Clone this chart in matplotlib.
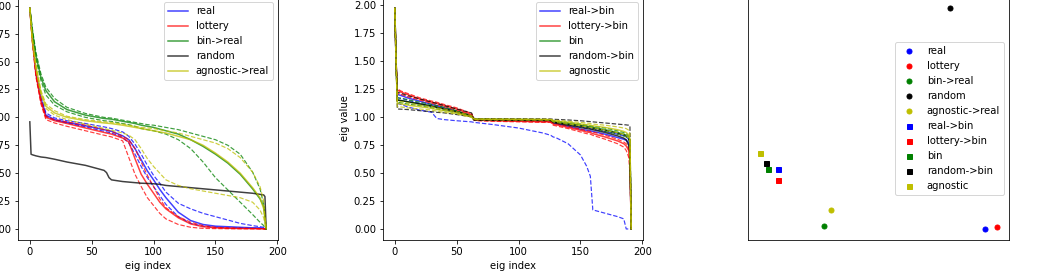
import matplotlib
matplotlib.use("Agg")
import matplotlib.pyplot as plt

# eigenvalue index grid used for the left panel
P1_IDX = [0, 1, 2, 5, 9, 13, 20, 30, 45, 60, 62, 64, 66, 75, 80, 85, 90, 95,
          100, 105, 110, 120, 130, 140, 150, 160, 170, 180, 186, 189, 190, 191]

REAL_MEAN = [1.98, 1.85, 1.72, 1.40, 1.17, 1.02, 0.98, 0.955, 0.925, 0.89, 0.885, 0.88,
             0.875, 0.835, 0.80, 0.72, 0.62, 0.52, 0.44, 0.355, 0.28, 0.15, 0.075, 0.04,
             0.025, 0.02, 0.015, 0.01, 0.01, 0.005, 0.0, 0.0]
REAL_RUN1 = [1.98, 1.84, 1.70, 1.38, 1.15, 1.01, 0.975, 0.95, 0.915, 0.875, 0.87, 0.865,
             0.86, 0.82, 0.77, 0.67, 0.56, 0.46, 0.38, 0.30, 0.22, 0.11, 0.05, 0.025,
             0.015, 0.01, 0.008, 0.005, 0.004, 0.002, 0.0, 0.0]
REAL_RUN2 = [1.98, 1.86, 1.74, 1.42, 1.19, 1.04, 0.995, 0.97, 0.945, 0.915, 0.91, 0.905,
             0.90, 0.87, 0.83, 0.76, 0.67, 0.57, 0.48, 0.41, 0.33, 0.23, 0.18, 0.14,
             0.11, 0.08, 0.05, 0.03, 0.02, 0.015, 0.01, 0.0]

LOTTERY_MEAN = [1.98, 1.84, 1.70, 1.38, 1.14, 1.00, 0.97, 0.945, 0.905, 0.865, 0.86, 0.855,
                0.85, 0.815, 0.78, 0.63, 0.49, 0.40, 0.32, 0.24, 0.18, 0.10, 0.045, 0.02,
                0.01, 0.006, 0.004, 0.003, 0.002, 0.001, 0.0, 0.0]
LOTTERY_RUN1 = [1.98, 1.83, 1.68, 1.36, 1.12, 0.98, 0.95, 0.92, 0.88, 0.84, 0.835, 0.83,
                0.825, 0.79, 0.64, 0.49, 0.38, 0.28, 0.21, 0.14, 0.09, 0.04, 0.015, 0.005,
                0.003, 0.002, 0.001, 0.001, 0.0, 0.0, 0.0, 0.0]
LOTTERY_RUN2 = [1.98, 1.85, 1.72, 1.40, 1.16, 1.01, 0.98, 0.96, 0.93, 0.89, 0.885, 0.88,
                0.875, 0.83, 0.80, 0.72, 0.60, 0.48, 0.38, 0.27, 0.19, 0.11, 0.06, 0.03,
                0.015, 0.01, 0.006, 0.004, 0.003, 0.002, 0.0, 0.0]

BIN_REAL_MEAN = [1.98, 1.88, 1.78, 1.55, 1.36, 1.24, 1.14, 1.07, 1.02, 0.99, 0.988, 0.986,
                 0.984, 0.965, 0.955, 0.945, 0.93, 0.92, 0.91, 0.895, 0.88, 0.85, 0.80, 0.74,
                 0.67, 0.59, 0.49, 0.36, 0.27, 0.20, 0.10, 0.0]
BIN_REAL_RUN1 = [1.98, 1.89, 1.80, 1.58, 1.39, 1.27, 1.17, 1.09, 1.035, 1.0, 0.998, 0.996,
                 0.994, 0.975, 0.965, 0.955, 0.945, 0.935, 0.93, 0.92, 0.91, 0.89, 0.86, 0.83,
                 0.80, 0.75, 0.67, 0.51, 0.36, 0.22, 0.10, 0.0]
BIN_REAL_RUN2 = [1.98, 1.87, 1.76, 1.52, 1.33, 1.20, 1.11, 1.05, 1.0, 0.97, 0.968, 0.966,
                 0.964, 0.945, 0.935, 0.92, 0.90, 0.89, 0.88, 0.865, 0.85, 0.80, 0.72, 0.60,
                 0.46, 0.35, 0.24, 0.13, 0.06, 0.03, 0.01, 0.0]

RANDOM_MEAN = [0.96, 0.67, 0.665, 0.655, 0.645, 0.64, 0.625, 0.60, 0.57, 0.525, 0.505, 0.46,
               0.44, 0.425, 0.42, 0.415, 0.41, 0.408, 0.405, 0.40, 0.39, 0.38, 0.37, 0.36,
               0.35, 0.34, 0.33, 0.32, 0.31, 0.305, 0.29, 0.0]

AGN_REAL_MEAN = [1.98, 1.84, 1.70, 1.45, 1.22, 1.10, 1.04, 1.0, 0.97, 0.95, 0.948, 0.946,
                 0.944, 0.93, 0.92, 0.91, 0.90, 0.89, 0.88, 0.87, 0.86, 0.83, 0.80, 0.75,
                 0.68, 0.60, 0.50, 0.37, 0.28, 0.18, 0.10, 0.0]
AGN_REAL_RUN1 = [1.98, 1.85, 1.72, 1.47, 1.24, 1.12, 1.06, 1.01, 0.98, 0.96, 0.958, 0.956,
                 0.954, 0.94, 0.93, 0.92, 0.91, 0.905, 0.90, 0.89, 0.88, 0.86, 0.83, 0.80,
                 0.77, 0.72, 0.64, 0.51, 0.38, 0.25, 0.10, 0.0]
AGN_REAL_RUN2 = [1.98, 1.83, 1.68, 1.43, 1.20, 1.08, 1.02, 0.98, 0.94, 0.90, 0.895, 0.89,
                 0.885, 0.86, 0.84, 0.80, 0.72, 0.63, 0.56, 0.50, 0.44, 0.39, 0.36, 0.34,
                 0.32, 0.30, 0.28, 0.24, 0.17, 0.10, 0.04, 0.0]

# eigenvalue index grid used for the middle panel
P2_IDX = [0, 1, 2, 5, 10, 20, 30, 32, 34, 40, 50, 62, 64, 66, 80, 100, 120, 126,
          128, 130, 140, 150, 155, 158, 160, 170, 180, 185, 187, 189, 190, 191]

REAL_BIN_MEAN = [1.97, 1.5, 1.20, 1.19, 1.17, 1.14, 1.11, 1.105, 1.10, 1.08, 1.05, 1.01,
                 0.975, 0.973, 0.97, 0.968, 0.966, 0.965, 0.945, 0.94, 0.915, 0.89, 0.88,
                 0.875, 0.87, 0.845, 0.815, 0.80, 0.79, 0.77, 0.70, 0.0]
REAL_BIN_RUN1 = [1.97, 1.5, 1.17, 1.165, 1.15, 1.12, 1.095, 1.09, 1.085, 1.07, 1.04, 1.005,
                 0.98, 0.978, 0.975, 0.973, 0.971, 0.97, 0.955, 0.95, 0.93, 0.91, 0.90,
                 0.895, 0.89, 0.87, 0.845, 0.83, 0.82, 0.80, 0.72, 0.0]
REAL_BIN_RUN2 = [1.97, 1.5, 1.12, 1.11, 1.09, 1.06, 1.04, 1.01, 0.985, 0.975, 0.965, 0.955,
                 0.95, 0.948, 0.93, 0.90, 0.855, 0.835, 0.82, 0.815, 0.76, 0.66, 0.56,
                 0.47, 0.17, 0.14, 0.11, 0.09, 0.0, 0.0, 0.0, 0.0]

LOTTERY_BIN_MEAN = [1.97, 1.5, 1.24, 1.22, 1.20, 1.16, 1.13, 1.125, 1.12, 1.10, 1.07, 1.02,
                    0.975, 0.97, 0.965, 0.96, 0.955, 0.955, 0.935, 0.93, 0.905, 0.88, 0.865,
                    0.86, 0.85, 0.82, 0.785, 0.76, 0.74, 0.70, 0.60, 0.0]
LOTTERY_BIN_RUN1 = [1.97, 1.5, 1.25, 1.23, 1.21, 1.17, 1.14, 1.135, 1.13, 1.11, 1.08, 1.03,
                    0.98, 0.975, 0.97, 0.965, 0.96, 0.96, 0.945, 0.94, 0.915, 0.89, 0.875,
                    0.87, 0.865, 0.835, 0.80, 0.775, 0.76, 0.72, 0.60, 0.0]
LOTTERY_BIN_RUN2 = [1.97, 1.5, 1.21, 1.20, 1.18, 1.15, 1.12, 1.115, 1.11, 1.09, 1.06, 1.01,
                    0.97, 0.965, 0.96, 0.955, 0.95, 0.95, 0.925, 0.92, 0.895, 0.865, 0.85,
                    0.845, 0.835, 0.80, 0.76, 0.73, 0.70, 0.64, 0.50, 0.0]

BIN_MEAN = [1.97, 1.5, 1.15, 1.145, 1.135, 1.115, 1.095, 1.09, 1.085, 1.07, 1.045, 1.005,
            0.978, 0.977, 0.976, 0.975, 0.974, 0.973, 0.96, 0.955, 0.94, 0.925, 0.915,
            0.91, 0.905, 0.885, 0.86, 0.845, 0.835, 0.815, 0.78, 0.0]
BIN_RUN1 = [1.97, 1.5, 1.17, 1.165, 1.155, 1.13, 1.11, 1.105, 1.10, 1.085, 1.055, 1.01,
            0.98, 0.979, 0.978, 0.977, 0.976, 0.975, 0.965, 0.962, 0.95, 0.935, 0.925,
            0.92, 0.915, 0.90, 0.875, 0.86, 0.85, 0.83, 0.80, 0.0]
BIN_RUN2 = [1.97, 1.5, 1.13, 1.125, 1.115, 1.10, 1.08, 1.075, 1.07, 1.055, 1.035, 1.0,
            0.975, 0.974, 0.973, 0.972, 0.971, 0.97, 0.955, 0.95, 0.93, 0.915, 0.905,
            0.90, 0.895, 0.87, 0.845, 0.83, 0.82, 0.80, 0.76, 0.0]

RANDOM_BIN_MEAN = [1.97, 1.5, 1.15, 1.145, 1.135, 1.115, 1.095, 1.09, 1.085, 1.07, 1.045, 1.005,
                   0.977, 0.976, 0.975, 0.974, 0.972, 0.97, 0.95, 0.945, 0.925, 0.905, 0.895,
                   0.89, 0.885, 0.86, 0.83, 0.81, 0.795, 0.745, 0.68, 0.0]
RANDOM_BIN_RUN1 = [1.97, 1.5, 1.22, 1.21, 1.19, 1.16, 1.13, 1.125, 1.12, 1.10, 1.07, 1.035,
                   0.985, 0.984, 0.984, 0.983, 0.982, 0.981, 0.978, 0.977, 0.972, 0.965, 0.96,
                   0.957, 0.955, 0.945, 0.935, 0.93, 0.928, 0.925, 0.92, 0.0]
RANDOM_BIN_RUN2 = [1.97, 1.5, 1.07, 1.068, 1.065, 1.055, 1.045, 1.043, 1.04, 1.035, 1.02, 1.0,
                   0.97, 0.969, 0.968, 0.967, 0.966, 0.965, 0.955, 0.95, 0.935, 0.92, 0.91,
                   0.905, 0.90, 0.88, 0.855, 0.84, 0.83, 0.81, 0.76, 0.0]

AGNOSTIC_MEAN = [1.97, 1.5, 1.12, 1.115, 1.105, 1.09, 1.075, 1.07, 1.065, 1.055, 1.035, 1.0,
                 0.98, 0.979, 0.978, 0.977, 0.976, 0.975, 0.965, 0.962, 0.95, 0.935, 0.93,
                 0.925, 0.92, 0.905, 0.885, 0.87, 0.86, 0.84, 0.80, 0.0]
AGNOSTIC_RUN1 = [1.97, 1.5, 1.14, 1.135, 1.125, 1.105, 1.09, 1.085, 1.08, 1.07, 1.045, 1.01,
                 0.982, 0.981, 0.98, 0.979, 0.978, 0.977, 0.972, 0.97, 0.96, 0.95, 0.945,
                 0.94, 0.935, 0.925, 0.91, 0.90, 0.895, 0.88, 0.85, 0.0]
AGNOSTIC_RUN2 = [1.97, 1.5, 1.09, 1.088, 1.08, 1.07, 1.06, 1.055, 1.05, 1.04, 1.025, 0.995,
                 0.975, 0.974, 0.973, 0.972, 0.971, 0.97, 0.955, 0.95, 0.935, 0.92, 0.91,
                 0.905, 0.90, 0.88, 0.86, 0.845, 0.835, 0.81, 0.78, 0.0]

# right panel: one point per model (no axis scale shown)
SCATTER_LABELS = ["real", "lottery", "bin->real", "random", "agnostic->real",
                  "real->bin", "lottery->bin", "bin", "random->bin", "agnostic"]
SCATTER_X = [0.95, 1.0, 0.27, 0.80, 0.30, 0.077, 0.077, 0.034, 0.025, 0.0]
SCATTER_Y = [0.0, 0.009, 0.014, 1.0, 0.085, 0.27, 0.223, 0.27, 0.298, 0.346]
SCATTER_MARKERS = ["o"] * 5 + ["s"] * 5

COLORS = ["b", "r", "g", "k", "y"]

PANEL1 = [
    ("real", REAL_MEAN, [REAL_RUN1, REAL_RUN2]),
    ("lottery", LOTTERY_MEAN, [LOTTERY_RUN1, LOTTERY_RUN2]),
    ("bin->real", BIN_REAL_MEAN, [BIN_REAL_RUN1, BIN_REAL_RUN2]),
    ("random", RANDOM_MEAN, []),
    ("agnostic->real", AGN_REAL_MEAN, [AGN_REAL_RUN1, AGN_REAL_RUN2]),
]
PANEL2 = [
    ("real->bin", REAL_BIN_MEAN, [REAL_BIN_RUN1, REAL_BIN_RUN2]),
    ("lottery->bin", LOTTERY_BIN_MEAN, [LOTTERY_BIN_RUN1, LOTTERY_BIN_RUN2]),
    ("bin", BIN_MEAN, [BIN_RUN1, BIN_RUN2]),
    ("random->bin", RANDOM_BIN_MEAN, [RANDOM_BIN_RUN1, RANDOM_BIN_RUN2]),
    ("agnostic", AGNOSTIC_MEAN, [AGNOSTIC_RUN1, AGNOSTIC_RUN2]),
]


def draw_spectra(ax, idx, groups):
    for color, (label, mean, runs) in zip(COLORS, groups):
        for run in runs:
            ax.plot(idx, run, color=color, linestyle="--", linewidth=1.2, alpha=0.75)
        ax.plot(idx, mean, color=color, linewidth=1.5, alpha=0.75, label=label)
    ax.set_xlabel("eig index")
    ax.set_xticks([0, 50, 100, 150, 200])
    ax.set_yticks([0.0, 0.25, 0.5, 0.75, 1.0, 1.25, 1.5, 1.75, 2.0])
    ax.legend(loc="upper right")


W, H = 1041, 280
fig = plt.figure(figsize=(W / 72, H / 72), dpi=72)

ax1 = fig.add_axes([18 / W, 40 / H, 260 / W, 243 / H])
ax2 = fig.add_axes([383 / W, 40 / H, 260 / W, 243 / H])
ax3 = fig.add_axes([748 / W, 40 / H, 261 / W, 243 / H])

draw_spectra(ax1, P1_IDX, PANEL1)
draw_spectra(ax2, P2_IDX, PANEL2)
ax2.set_ylabel("eig value")

for i, label in enumerate(SCATTER_LABELS):
    ax3.plot(SCATTER_X[i], SCATTER_Y[i], linestyle="none", marker=SCATTER_MARKERS[i],
             color=COLORS[i % 5], markersize=5, label=label)
ax3.set_xticks([])
ax3.set_yticks([])
ax3.legend(loc="center right")

fig.savefig("out.png", dpi=72)
